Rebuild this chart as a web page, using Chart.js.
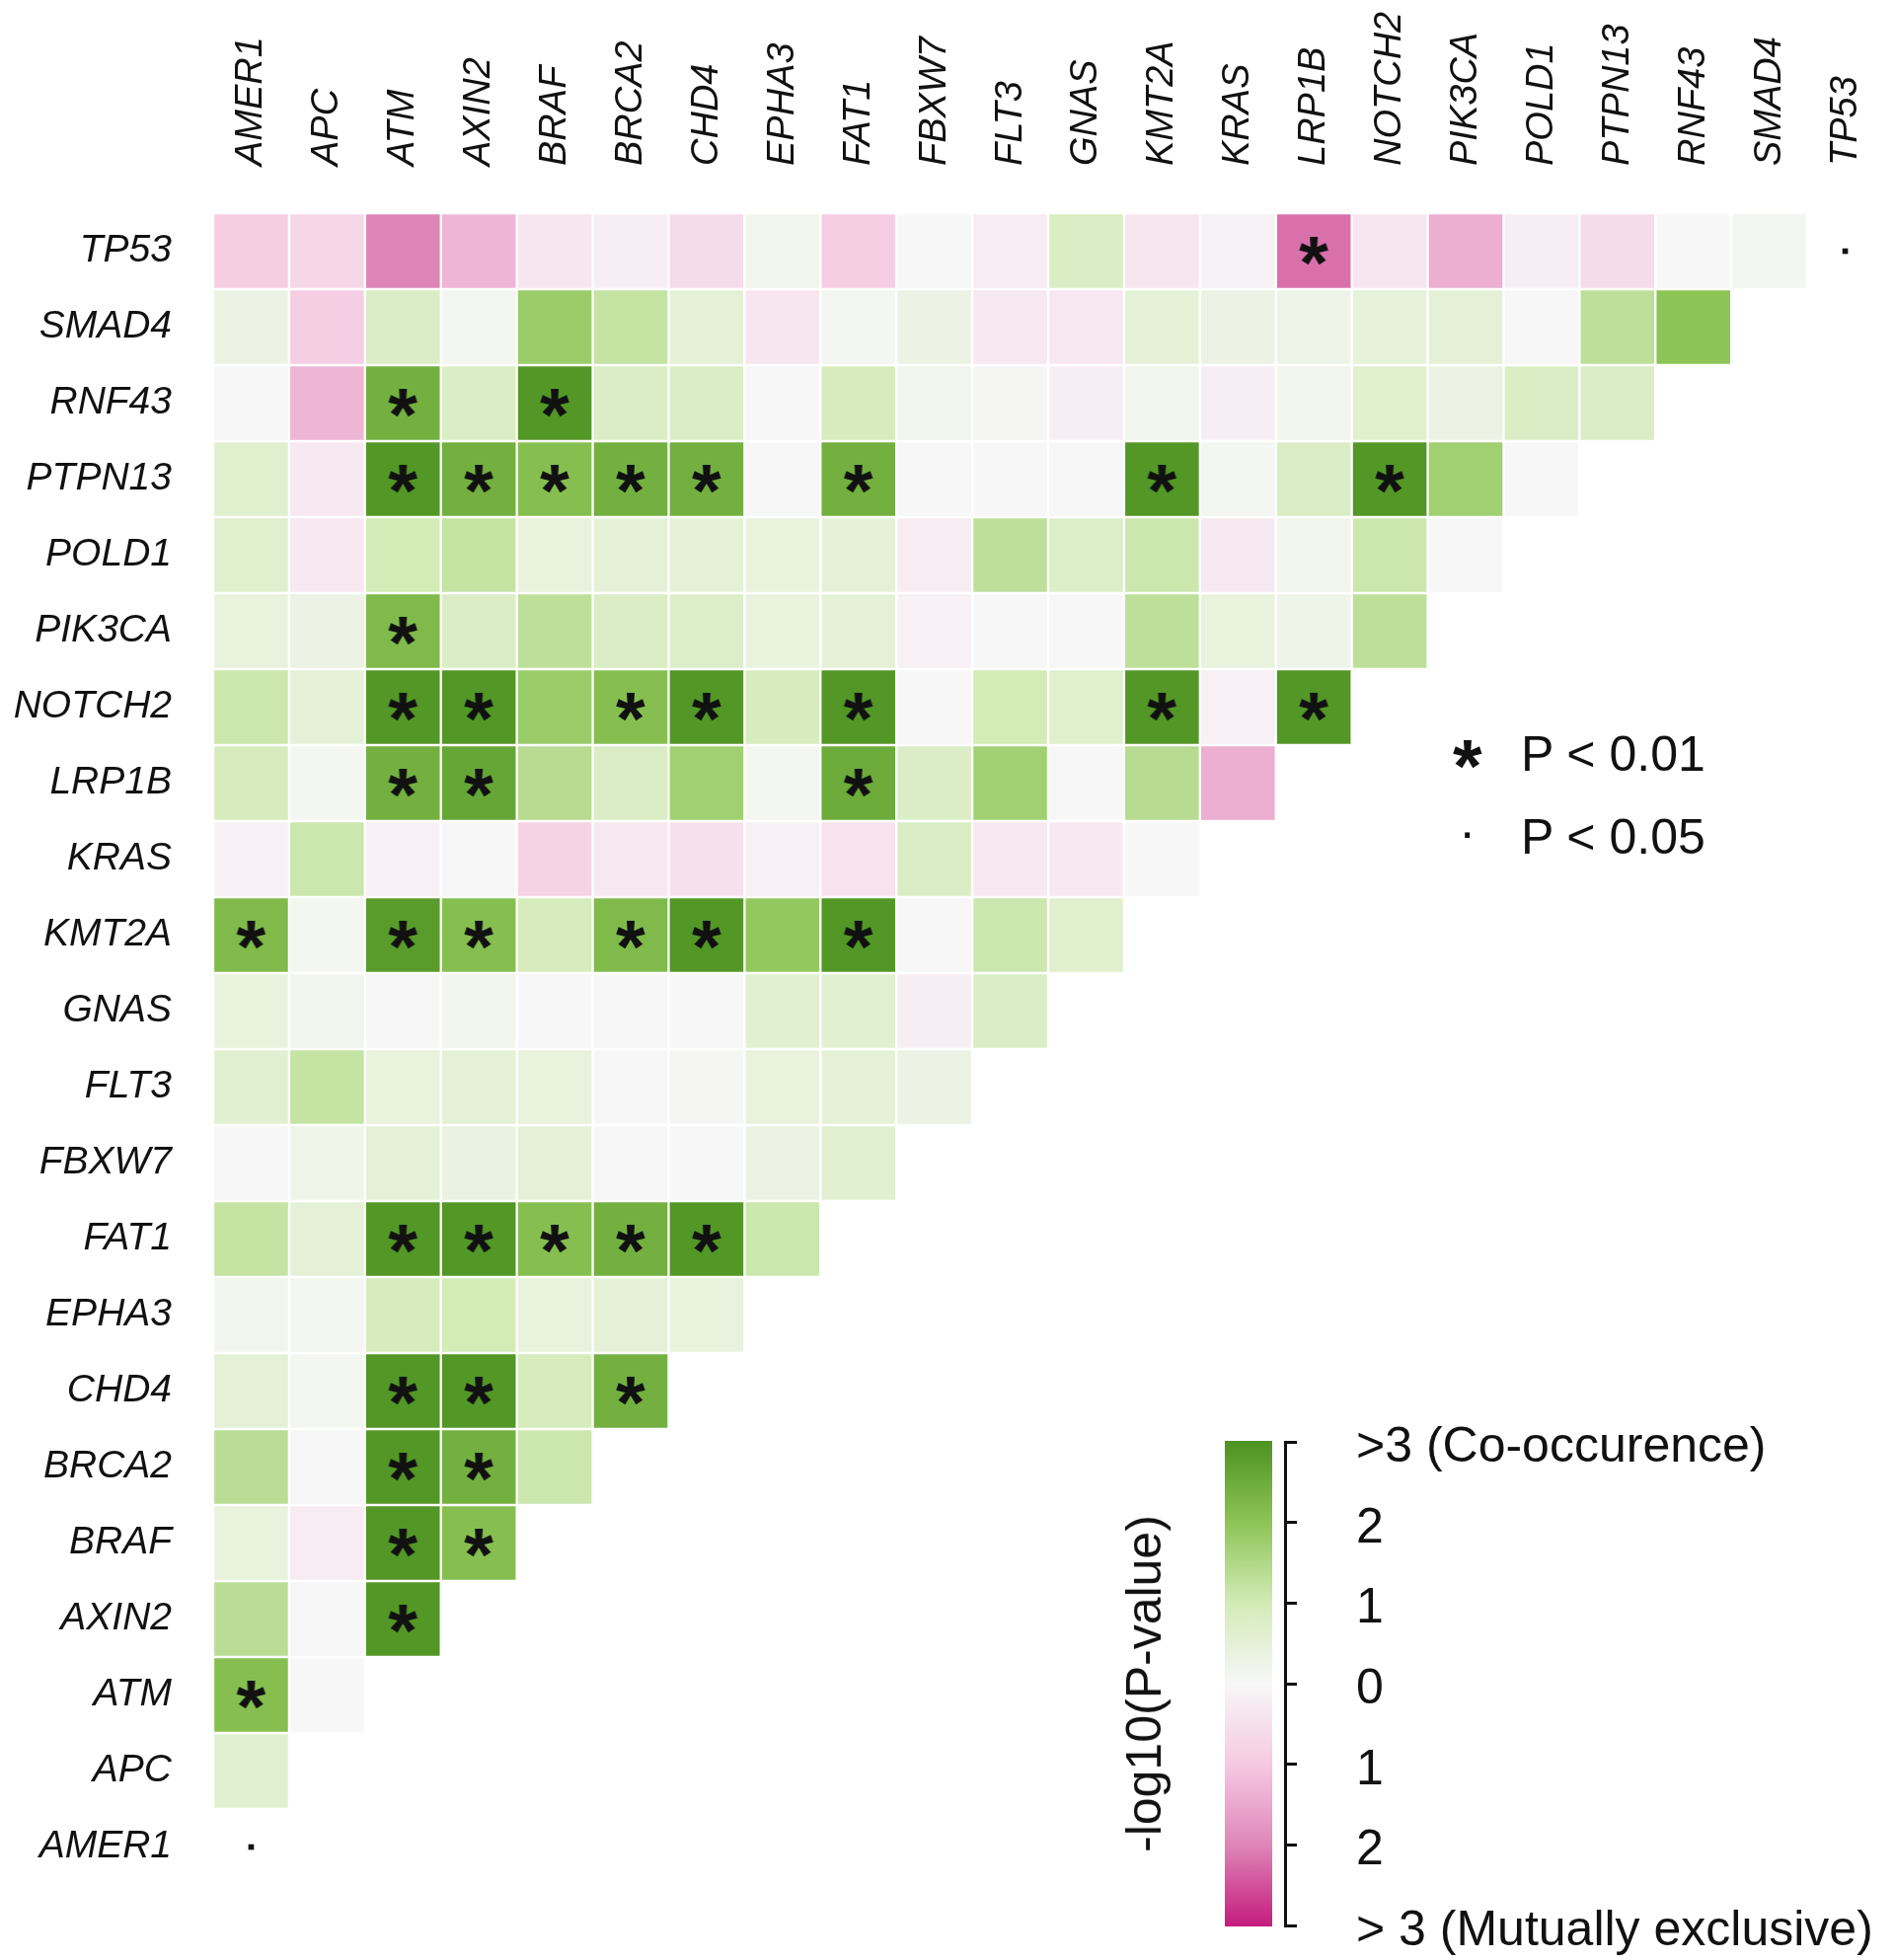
<!DOCTYPE html>
<html lang="en">
<head>
    <meta charset="UTF-8">
    <title>Gene pair co-occurrence / mutual exclusivity</title>

    <!-- Chart.js library -->
    <script src="https://cdn.jsdelivr.net/npm/chart.js@4.4.0/dist/chart.umd.min.js"></script>

    <style>
        html, body {
            margin: 0;
            padding: 0;
            background: #ffffff;
            overflow: hidden;
        }
        body {
            font-family: 'Liberation Sans', Arial, sans-serif;
            color: #111111;
        }
        .page {
            position: relative;
            width: 1919px;
            height: 1986px;
        }
        .chart-box {
            position: absolute;
            left: 0;
            top: 0;
            width: 1919px;
            height: 1986px;
        }
        .txt {
            position: absolute;
            white-space: nowrap;
            margin: 0;
        }
        .cbar {
            position: absolute;
            left: 1241px;
            top: 1460px;
            width: 48px;
            height: 492px;
        }
        .cbar-line {
            position: absolute;
            background: #111111;
        }
        .cbar-title {
            position: absolute;
            left: 1159px;
            top: 1706px;
            font-size: 50px;
            line-height: 1;
            white-space: nowrap;
            transform: translate(-50%, -50%) rotate(-90deg);
        }
    </style>
</head>
<body>
    <div class="page" id="page">
        <div class="chart-box">
            <canvas id="heatmap"></canvas>
        </div>
        <div class="cbar" id="cbar"></div>
        <div class="cbar-title" id="cbar-title"></div>
    </div>

    <script>
        // Genes along the top (left to right) and down the side (top to bottom)
        const colGenes = ['AMER1', 'APC', 'ATM', 'AXIN2', 'BRAF', 'BRCA2', 'CHD4', 'EPHA3', 'FAT1', 'FBXW7',
            'FLT3', 'GNAS', 'KMT2A', 'KRAS', 'LRP1B', 'NOTCH2', 'PIK3CA', 'POLD1', 'PTPN13', 'RNF43', 'SMAD4', 'TP53'];
        const rowGenes = ['TP53', 'SMAD4', 'RNF43', 'PTPN13', 'POLD1', 'PIK3CA', 'NOTCH2', 'LRP1B', 'KRAS', 'KMT2A',
            'GNAS', 'FLT3', 'FBXW7', 'FAT1', 'EPHA3', 'CHD4', 'BRCA2', 'BRAF', 'AXIN2', 'ATM', 'APC', 'AMER1'];

        // Signed -log10(P): positive = co-occurrence (green), negative = mutually exclusive (pink)
        // Each row lists the cells from AMER1 rightwards.
        const vTP53   = [-0.9, -0.7, -2.0, -1.3, -0.4, -0.2, -0.6, 0.15, -0.9, 0.0, -0.25, 0.8, -0.4, -0.1, -2.2, -0.4, -1.4, -0.2, -0.6, 0.0, 0.1];
        const vSMAD4  = [0.3, -0.9, 0.8, 0.1, 1.8, 1.2, 0.5, -0.4, 0.1, 0.3, -0.3, -0.35, 0.5, 0.3, 0.25, 0.45, 0.5, 0.0, 1.3, 2.0];
        const vRNF43  = [0.0, -1.3, 2.4, 0.8, 2.9, 0.8, 0.8, 0.0, 0.9, 0.15, 0.05, -0.2, 0.15, -0.2, 0.15, 0.65, 0.3, 0.8, 0.8];
        const vPTPN13 = [0.65, -0.3, 2.9, 2.4, 2.1, 2.4, 2.4, 0.0, 2.4, 0.0, 0.0, 0.0, 2.9, 0.1, 0.8, 2.9, 1.7, 0.0];
        const vPOLD1  = [0.65, -0.3, 1.0, 1.2, 0.4, 0.5, 0.5, 0.4, 0.5, -0.25, 1.3, 0.75, 1.1, -0.3, 0.15, 1.1, 0.0];
        const vPIK3CA = [0.4, 0.3, 2.2, 0.8, 1.3, 0.8, 0.75, 0.4, 0.5, -0.15, 0.0, 0.0, 1.3, 0.4, 0.25, 1.3];
        const vNOTCH2 = [1.1, 0.5, 2.9, 2.9, 1.8, 2.1, 2.9, 0.9, 2.9, 0.0, 1.0, 0.65, 2.9, -0.15, 2.9];
        const vLRP1B  = [0.9, 0.1, 2.4, 2.6, 1.4, 0.8, 1.7, 0.1, 2.5, 0.8, 1.7, 0.0, 1.4, -1.4];
        const vKRAS   = [-0.15, 1.1, -0.15, 0.0, -0.8, -0.3, -0.5, -0.15, -0.45, 0.8, -0.3, -0.3, 0.0];
        const vKMT2A  = [2.2, 0.1, 2.8, 2.1, 0.9, 2.2, 2.9, 1.9, 2.9, 0.0, 1.1, 0.65];
        const vGNAS   = [0.4, 0.15, 0.0, 0.15, 0.0, 0.0, 0.0, 0.6, 0.6, -0.2, 0.8];
        const vFLT3   = [0.6, 1.2, 0.4, 0.5, 0.4, 0.0, 0.05, 0.4, 0.5, 0.3];
        const vFBXW7  = [0.0, 0.2, 0.5, 0.35, 0.5, 0.0, 0.0, 0.3, 0.6];
        const vFAT1   = [1.2, 0.5, 2.9, 2.9, 2.1, 2.4, 2.9, 1.1];
        const vEPHA3  = [0.15, 0.1, 0.9, 1.0, 0.4, 0.5, 0.4];
        const vCHD4   = [0.5, 0.1, 2.9, 2.9, 0.9, 2.4];
        const vBRCA2  = [1.35, 0.0, 2.9, 2.4, 1.1];
        const vBRAF   = [0.4, -0.25, 2.9, 2.1];
        const vAXIN2  = [1.35, 0.0, 2.9];
        const vATM    = [2.1, 0.0];
        const vAPC    = [0.6];
        const vAMER1  = [];

        const rowValues = [vTP53, vSMAD4, vRNF43, vPTPN13, vPOLD1, vPIK3CA, vNOTCH2, vLRP1B, vKRAS, vKMT2A,
            vGNAS, vFLT3, vFBXW7, vFAT1, vEPHA3, vCHD4, vBRCA2, vBRAF, vAXIN2, vATM, vAPC, vAMER1];

        // [row gene, column gene] pairs with P < 0.01 (asterisk)
        const starPairs = [
            ['TP53', 'LRP1B'],
            ['RNF43', 'ATM'], ['RNF43', 'BRAF'],
            ['PTPN13', 'ATM'], ['PTPN13', 'AXIN2'], ['PTPN13', 'BRAF'], ['PTPN13', 'BRCA2'], ['PTPN13', 'CHD4'],
            ['PTPN13', 'FAT1'], ['PTPN13', 'KMT2A'], ['PTPN13', 'NOTCH2'],
            ['PIK3CA', 'ATM'],
            ['NOTCH2', 'ATM'], ['NOTCH2', 'AXIN2'], ['NOTCH2', 'BRCA2'], ['NOTCH2', 'CHD4'], ['NOTCH2', 'FAT1'],
            ['NOTCH2', 'KMT2A'], ['NOTCH2', 'LRP1B'],
            ['LRP1B', 'ATM'], ['LRP1B', 'AXIN2'], ['LRP1B', 'FAT1'],
            ['KMT2A', 'AMER1'], ['KMT2A', 'ATM'], ['KMT2A', 'AXIN2'], ['KMT2A', 'BRCA2'], ['KMT2A', 'CHD4'], ['KMT2A', 'FAT1'],
            ['FAT1', 'ATM'], ['FAT1', 'AXIN2'], ['FAT1', 'BRAF'], ['FAT1', 'BRCA2'], ['FAT1', 'CHD4'],
            ['CHD4', 'ATM'], ['CHD4', 'AXIN2'], ['CHD4', 'BRCA2'],
            ['BRCA2', 'ATM'], ['BRCA2', 'AXIN2'],
            ['BRAF', 'ATM'], ['BRAF', 'AXIN2'],
            ['AXIN2', 'ATM'],
            ['ATM', 'AMER1']
        ];
        // [row gene, column gene] pairs with P < 0.05 (dot)
        const dotPairs = [['TP53', 'TP53'], ['AMER1', 'AMER1']];

        // Colour scale (PiYG style) and its legend
        const scaleStops = [-3, -2, -1, 0, 1, 2, 3];
        const scaleColours = ['#c51b7d', '#de85b8', '#f6c9e2', '#f7f7f7', '#d3ebb7', '#8cc455', '#4d9221'];
        const cbarTicks = [3, 2, 1, 0, -1, -2, -3];
        const cbarLabels = ['>3 (Co-occurence)', '2', '1', '0', '1', '2', '> 3 (Mutually exclusive)'];
        const cbarTitle = '-log10(P-value)';
        const sigSymbols = ['*', '\u00b7'];
        const sigLabels = ['P < 0.01', 'P < 0.05'];

        function hexToRgb(hex) {
            const n = parseInt(hex.slice(1), 16);
            return [(n >> 16) & 255, (n >> 8) & 255, n & 255];
        }

        function valueColour(v) {
            const x = Math.max(-3, Math.min(3, v));
            let i = 0;
            while (i < scaleStops.length - 2 && x > scaleStops[i + 1]) i++;
            const t = (x - scaleStops[i]) / (scaleStops[i + 1] - scaleStops[i]);
            const a = hexToRgb(scaleColours[i]);
            const b = hexToRgb(scaleColours[i + 1]);
            const c = a.map((ch, k) => Math.round(ch + (b[k] - ch) * t));
            return `rgb(${c[0]}, ${c[1]}, ${c[2]})`;
        }

        // Asterisk marker drawn from the font, cropped to its ink box
        function makeGlyph(ch, font, targetH) {
            const probe = document.createElement('canvas').getContext('2d');
            probe.font = `${font} 100px "Liberation Sans"`;
            let m = probe.measureText(ch);
            const size = 100 * targetH / (m.actualBoundingBoxAscent + m.actualBoundingBoxDescent);
            probe.font = `${font} ${size}px "Liberation Sans"`;
            m = probe.measureText(ch);
            const w = Math.ceil(m.actualBoundingBoxLeft + m.actualBoundingBoxRight) + 4;
            const h = Math.ceil(m.actualBoundingBoxAscent + m.actualBoundingBoxDescent) + 4;
            const c = document.createElement('canvas');
            c.width = w;
            c.height = h;
            const g = c.getContext('2d');
            g.font = probe.font;
            g.fillStyle = '#111111';
            g.fillText(ch, 2 + m.actualBoundingBoxLeft, 2 + m.actualBoundingBoxAscent);
            return c;
        }

        const starGlyph = makeGlyph('*', 'bold', 29);

        // One floating-bar dataset per row, each bar spanning one row unit
        const cellSets = rowValues.map((vals, r) => ({
            type: 'bar',
            label: rowGenes[r],
            data: vals.map(() => [r - 0.5, r + 0.5]),
            backgroundColor: vals.map(valueColour),
            borderColor: '#ffffff',
            borderWidth: 1.5,
            borderSkipped: false,
            grouped: false,
            barPercentage: 1,
            categoryPercentage: 1,
            order: 2
        }));

        const starSet = {
            type: 'line',
            label: 'P < 0.01',
            data: starPairs.map(([rg, cg]) => ({ x: cg, y: rowGenes.indexOf(rg) })),
            showLine: false,
            pointStyle: starGlyph,
            pointRadius: 10,
            order: 1
        };

        const dotSet = {
            type: 'line',
            label: 'P < 0.05',
            data: dotPairs.map(([rg, cg]) => ({ x: cg, y: rowGenes.indexOf(rg) })),
            showLine: false,
            pointStyle: 'rect',
            pointRadius: 4,
            backgroundColor: '#111111',
            borderColor: '#111111',
            borderWidth: 0,
            order: 1
        };

        const labelFont = { family: "'Liberation Sans', Arial, sans-serif", style: 'italic' };

        const ctx = document.getElementById('heatmap').getContext('2d');
        const heatmap = new Chart(ctx, {
            type: 'bar',
            data: {
                labels: colGenes,
                datasets: [...cellSets, starSet, dotSet]
            },
            options: {
                responsive: true,
                maintainAspectRatio: false,
                devicePixelRatio: 1,
                animation: false,
                layout: {
                    padding: { left: 0, top: 0, right: 7, bottom: 76 }
                },
                scales: {
                    x: {
                        type: 'category',
                        position: 'top',
                        offset: true,
                        grid: { display: false, drawTicks: false },
                        border: { display: false },
                        ticks: {
                            autoSkip: false,
                            minRotation: 90,
                            maxRotation: 90,
                            padding: 48,
                            // rotated labels on a top axis sit one line to the left; pull them back over their column
                            labelOffset: 46,
                            color: '#111111',
                            font: { ...labelFont, size: 38 }
                        },
                        afterFit: scale => { scale.height = 216; }
                    },
                    y: {
                        type: 'linear',
                        min: -0.5,
                        max: 21.5,
                        reverse: true,
                        grid: { display: false, drawTicks: false },
                        border: { display: false },
                        afterBuildTicks: scale => {
                            scale.ticks = rowGenes.map((g, i) => ({ value: i }));
                        },
                        ticks: {
                            autoSkip: false,
                            padding: 42,
                            color: '#111111',
                            font: { ...labelFont, size: 39 },
                            callback: value => rowGenes[value]
                        },
                        afterFit: scale => { scale.width = 216; }
                    }
                },
                plugins: {
                    legend: { display: false },
                    tooltip: { enabled: false }
                }
            }
        });

        // ---- HTML legends: significance key and colour bar ----
        const page = document.getElementById('page');
        const probe = document.createElement('canvas').getContext('2d');

        // place text so its baseline sits at y (left aligned at x)
        function putText(text, size, weight, x, baseline) {
            probe.font = `${weight} ${size}px "Liberation Sans"`;
            const m = probe.measureText(text);
            const fa = m.fontBoundingBoxAscent, fd = m.fontBoundingBoxDescent;
            const el = document.createElement('div');
            el.className = 'txt';
            el.textContent = text;
            el.style.fontSize = size + 'px';
            el.style.fontWeight = weight;
            el.style.lineHeight = size + 'px';
            el.style.left = x + 'px';
            el.style.top = (baseline - (size - fa - fd) / 2 - fa) + 'px';
            page.appendChild(el);
        }

        // place a symbol so its ink box is centred on (cx, cy)
        function putSymbol(text, size, weight, cx, cy) {
            probe.font = `${weight} ${size}px "Liberation Sans"`;
            const m = probe.measureText(text);
            const fa = m.fontBoundingBoxAscent, fd = m.fontBoundingBoxDescent;
            const el = document.createElement('div');
            el.className = 'txt';
            el.textContent = text;
            el.style.fontSize = size + 'px';
            el.style.fontWeight = weight;
            el.style.lineHeight = size + 'px';
            el.style.left = (cx - (m.actualBoundingBoxRight - m.actualBoundingBoxLeft) / 2) + 'px';
            const baseline = cy + (m.actualBoundingBoxAscent - m.actualBoundingBoxDescent) / 2;
            el.style.top = (baseline - (size - fa - fd) / 2 - fa) + 'px';
            page.appendChild(el);
        }

        const sigY = [765, 846];
        const sigBase = [781, 865];
        const sigSize = [76, 52];
        const sigWeight = ['bold', 'normal'];
        sigSymbols.forEach((s, i) => {
            putSymbol(s, sigSize[i], sigWeight[i], 1487, sigY[i]);
            putText(sigLabels[i], 50, 'normal', 1541, sigBase[i]);
        });

        // colour bar gradient from the same stops as the cells
        const cbar = document.getElementById('cbar');
        const grad = scaleStops.slice().reverse().map((s, i, arr) =>
            `${scaleColours[scaleStops.indexOf(s)]} ${(i / (arr.length - 1) * 100).toFixed(2)}%`).join(', ');
        cbar.style.background = `linear-gradient(to bottom, ${grad})`;

        const cbTop = 1461, cbSpan = 490;
        const axisLine = document.createElement('div');
        axisLine.className = 'cbar-line';
        Object.assign(axisLine.style, { left: '1301px', top: cbTop - 1.5 + 'px', width: '3px', height: cbSpan + 3 + 'px' });
        page.appendChild(axisLine);

        cbarTicks.forEach((t, i) => {
            const y = cbTop + (3 - t) / 6 * cbSpan;
            const tick = document.createElement('div');
            tick.className = 'cbar-line';
            Object.assign(tick.style, { left: '1301px', top: (y - 1.5) + 'px', width: '13px', height: '3px' });
            page.appendChild(tick);
            putText(cbarLabels[i], 50, 'normal', 1374, y + 20);
        });

        document.getElementById('cbar-title').textContent = cbarTitle;
    </script>
</body>
</html>
